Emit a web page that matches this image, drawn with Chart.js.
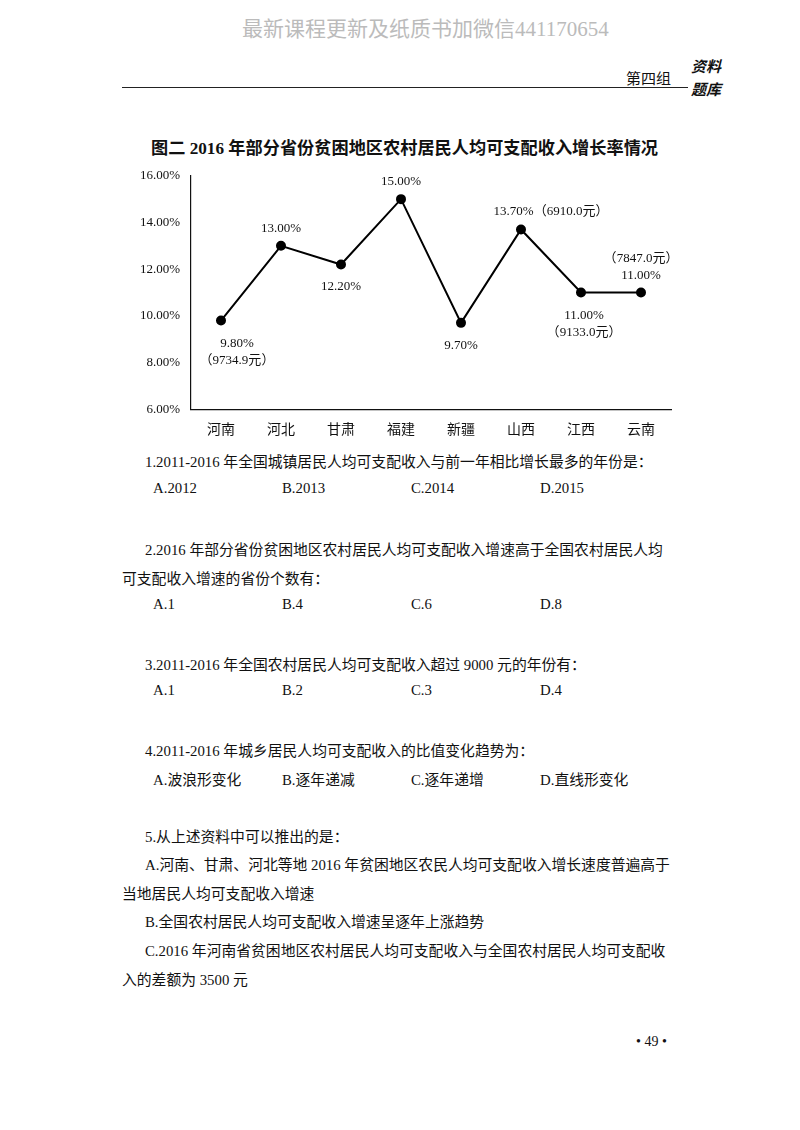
<!DOCTYPE html>
<html><head><meta charset="utf-8">
<script src="https://cdn.jsdelivr.net/npm/chart.js@4.4.0/dist/chart.umd.min.js"></script>
<style>
body{margin:0;width:800px;height:1130px;background:#fff;position:relative;font-family:"Liberation Serif","Noto Sans CJK SC",serif;color:#111;overflow:hidden}
.a{position:absolute;white-space:nowrap}
.q{font-size:14.8px}
</style></head><body>
<div class="a" style="left:242px;top:12px;font-size:21px;color:#bbb;font-family:'Liberation Serif','Noto Sans CJK SC',serif">最新课程更新及纸质书加微信441170654</div>
<div class="a" style="left:626px;top:67px;font-size:15px;font-family:'Noto Sans CJK SC'">第四组</div>
<div class="a" style="left:691px;top:54px;font-size:15px;font-weight:bold;font-family:'Noto Sans CJK SC';line-height:23px;font-style:italic">资料<br>题库</div>
<div class="a" style="left:122px;top:87px;width:566px;border-top:1.5px solid #222"></div>
<div class="a" style="left:151px;top:134px;font-size:17.2px;font-weight:bold;font-family:'Liberation Serif','Noto Sans CJK SC'">图二 2016 年部分省份贫困地区农村居民人均可支配收入增长率情况</div>
<div class="a" style="left:131px;top:165px;width:600px;height:275px"><canvas id="c"></canvas></div>
<div class="a q" style="left:145px;top:450px">1.2011-2016 年全国城镇居民人均可支配收入与前一年相比增长最多的年份是：</div>
<div class="a q" style="left:153px;top:480px">A.2012</div><div class="a q" style="left:282px;top:480px">B.2013</div><div class="a q" style="left:411px;top:480px">C.2014</div><div class="a q" style="left:540px;top:480px">D.2015</div>
<div class="a q" style="left:145px;top:538px">2.2016 年部分省份贫困地区农村居民人均可支配收入增速高于全国农村居民人均</div>
<div class="a q" style="left:122px;top:567px">可支配收入增速的省份个数有：</div>
<div class="a q" style="left:153px;top:596px">A.1</div><div class="a q" style="left:282px;top:596px">B.4</div><div class="a q" style="left:411px;top:596px">C.6</div><div class="a q" style="left:540px;top:596px">D.8</div>
<div class="a q" style="left:145px;top:653px">3.2011-2016 年全国农村居民人均可支配收入超过 9000 元的年份有：</div>
<div class="a q" style="left:153px;top:682px">A.1</div><div class="a q" style="left:282px;top:682px">B.2</div><div class="a q" style="left:411px;top:682px">C.3</div><div class="a q" style="left:540px;top:682px">D.4</div>
<div class="a q" style="left:145px;top:739px">4.2011-2016 年城乡居民人均可支配收入的比值变化趋势为：</div>
<div class="a q" style="left:153px;top:768px">A.波浪形变化</div><div class="a q" style="left:282px;top:768px">B.逐年递减</div><div class="a q" style="left:411px;top:768px">C.逐年递增</div><div class="a q" style="left:540px;top:768px">D.直线形变化</div>
<div class="a q" style="left:145px;top:825px">5.从上述资料中可以推出的是：</div>
<div class="a q" style="left:145px;top:853px">A.河南、甘肃、河北等地 2016 年贫困地区农民人均可支配收入增长速度普遍高于</div>
<div class="a q" style="left:122px;top:882px">当地居民人均可支配收入增速</div>
<div class="a q" style="left:145px;top:910px">B.全国农村居民人均可支配收入增速呈逐年上涨趋势</div>
<div class="a q" style="left:145px;top:939px">C.2016 年河南省贫困地区农村居民人均可支配收入与全国农村居民人均可支配收</div>
<div class="a q" style="left:122px;top:968px">入的差额为 3500 元</div>
<div class="a" style="left:636px;top:1034px;font-size:14px">• 49 •</div>
<script>
const categories=["河南","河北","甘肃","福建","新疆","山西","江西","云南"];
const rates=[9.8,13.0,12.2,15.0,9.7,13.7,11.0,11.0];
const pointLabels=[["9.80%","（9734.9元）"],["13.00%"],["12.20%"],["15.00%"],["9.70%"],["13.70%（6910.0元）"],["11.00%","（9133.0元）"],["（7847.0元）","11.00%"]];
const labelPos=["below","above","below","above","below","above","below","above"];
const yTicks=[6,8,10,12,14,16];
const lbl={id:"lbl",afterDatasetsDraw(ch){const ctx=ch.ctx;const m=ch.getDatasetMeta(0);ctx.save();ctx.fillStyle="#111";ctx.font="13px 'Liberation Serif','Noto Sans CJK SC'";ctx.textAlign="center";
m.data.forEach((p,i)=>{const L=pointLabels[i];let y;if(labelPos[i]==="above"){y=p.y-14-(L.length-1)*17;}else{y=p.y+26;}
L.forEach((t,k)=>{let x=p.x;if(i===0)x=p.x+16;if(i===5)x=p.x+30;if(i===6)x=p.x+3;ctx.fillText(t,x,y+k*17);});});ctx.restore();}};
new Chart(document.getElementById("c"),{type:"line",data:{labels:categories,datasets:[{data:rates,borderColor:"#000",backgroundColor:"#000",borderWidth:2,pointRadius:4,tension:0}]},
options:{responsive:true,maintainAspectRatio:false,animation:false,layout:{padding:{top:10,right:60}},plugins:{legend:{display:false},tooltip:{enabled:false}},
scales:{y:{min:6,max:16,afterFit(s){s.width=60},afterBuildTicks(s){s.ticks=yTicks.map(v=>({value:v}))},ticks:{color:"#111",font:{family:"Liberation Serif",size:13},callback:v=>v.toFixed(2)+"%"},grid:{display:false},border:{color:"#111",width:1.2}},
x:{offset:true,grid:{display:false,offset:true},border:{color:"#111",width:1.2},ticks:{color:"#111",font:{family:"Noto Sans CJK SC",size:14}}}}},plugins:[lbl]});
</script></body></html>
